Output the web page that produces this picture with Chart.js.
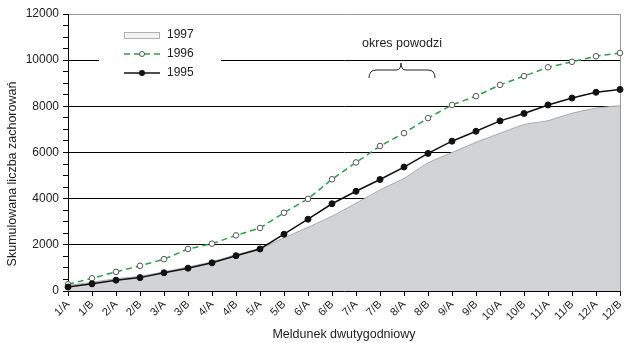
<!DOCTYPE html>
<html>
<head>
<meta charset="utf-8">
<script src="https://cdn.jsdelivr.net/npm/chart.js@4"></script>
<style>
  body { margin: 0; background: #fff; }
</style>
</head>
<body>
<canvas id="myChart" width="625" height="343"></canvas>
<script>
// meldunki dwutygodniowe
const labels = ['1/A', '1/B', '2/A', '2/B', '3/A', '3/B', '4/A', '4/B', '5/A', '5/B', '6/A', '6/B',
  '7/A', '7/B', '8/A', '8/B', '9/A', '9/B', '10/A', '10/B', '11/A', '11/B', '12/A', '12/B'];

const data1995 = [170, 310, 470, 580, 790, 990, 1220, 1530, 1820, 2460, 3110, 3780,
  4320, 4830, 5370, 5960, 6490, 6920, 7370, 7690, 8060, 8360, 8610, 8730];
const data1996 = [290, 550, 830, 1090, 1380, 1820, 2050, 2410, 2730, 3390, 3990, 4840,
  5570, 6280, 6840, 7490, 8060, 8440, 8930, 9310, 9690, 9930, 10170, 10310];
const data1997 = [240, 380, 530, 640, 830, 1040, 1270, 1570, 1860, 2300, 2760, 3240,
  3800, 4380, 4880, 5550, 6000, 6440, 6830, 7210, 7380, 7700, 7920, 8030];

const yMax = 12000;
const majorStep = 2000;
const GREEN = '#2f9c4d';
const FONT = '"Liberation Sans", Arial, sans-serif';

// legenda, tytul osi Y i adnotacja "okres powodzi"
const extras = {
  id: 'extras',
  afterDraw(chart) {
    const ctx = chart.ctx;
    ctx.save();
    // biale tlo legendy
    ctx.fillStyle = '#fff';
    ctx.fillRect(99, 24, 122, 60);

    ctx.font = '12px ' + FONT;
    ctx.textBaseline = 'middle';

    // 1997
    ctx.fillStyle = '#f2f2f2';
    ctx.fillRect(124.5, 32.5, 35, 6);
    ctx.strokeStyle = '#b0b0b0';
    ctx.lineWidth = 1;
    ctx.strokeRect(124.5, 32.5, 35, 6);
    ctx.fillStyle = '#222';
    ctx.fillText('1997', 167, 35);

    // 1996
    ctx.strokeStyle = GREEN;
    ctx.lineWidth = 1.5;
    ctx.setLineDash([6, 4]);
    ctx.beginPath(); ctx.moveTo(124, 54); ctx.lineTo(160, 54); ctx.stroke();
    ctx.setLineDash([]);
    ctx.lineWidth = 1;
    ctx.beginPath(); ctx.arc(142, 54, 2.5, 0, Math.PI * 2);
    ctx.fillStyle = '#fff'; ctx.fill();
    ctx.strokeStyle = '#555'; ctx.stroke();
    ctx.fillStyle = '#222';
    ctx.fillText('1996', 167, 54);

    // 1995
    ctx.strokeStyle = '#111';
    ctx.lineWidth = 1.5;
    ctx.beginPath(); ctx.moveTo(124, 73); ctx.lineTo(160, 73); ctx.stroke();
    ctx.beginPath(); ctx.arc(142, 73, 3, 0, Math.PI * 2);
    ctx.fillStyle = '#111'; ctx.fill();
    ctx.fillStyle = '#222';
    ctx.fillText('1995', 167, 73);

    // okres powodzi
    ctx.textAlign = 'center';
    ctx.font = '12.5px ' + FONT;
    ctx.fillText('okres powodzi', 402, 44);
    ctx.strokeStyle = '#222';
    ctx.lineWidth = 1;
    ctx.beginPath();
    ctx.moveTo(369, 78);
    ctx.quadraticCurveTo(369, 70, 376, 70);
    ctx.lineTo(396, 70);
    ctx.quadraticCurveTo(401, 70, 401, 63);
    ctx.quadraticCurveTo(401, 70, 406, 70);
    ctx.lineTo(428, 70);
    ctx.quadraticCurveTo(435, 70, 435, 78);
    ctx.stroke();

    // tytul osi Y
    ctx.translate(13, 174);
    ctx.rotate(-Math.PI / 2);
    ctx.fillText('Skumulowana liczba zachorowań', 0, 0);
    ctx.restore();
  }
};

window.onload = () => {
  const ctx = document.getElementById('myChart').getContext('2d');
  Chart.defaults.font.family = FONT;
  Chart.defaults.font.size = 12;
  Chart.defaults.color = '#222';

  new Chart(ctx, {
    type: 'line',
    data: {
      labels: labels,
      datasets: [
        {
          label: '1995',
          data: data1995,
          borderColor: '#111',
          borderWidth: 1.5,
          pointRadius: 3,
          pointBackgroundColor: '#111',
          pointBorderColor: '#111',
          pointBorderWidth: 1,
          tension: 0,
          fill: false,
          order: 0
        },
        {
          label: '1996',
          data: data1996,
          borderColor: GREEN,
          borderWidth: 1.5,
          borderDash: [6, 4],
          pointRadius: 2.8,
          pointBackgroundColor: '#fff',
          pointBorderColor: '#555',
          pointBorderWidth: 1,
          tension: 0,
          fill: false,
          order: 1
        },
        {
          label: '1997',
          data: data1997,
          borderColor: '#a8a8a8',
          borderWidth: 1,
          backgroundColor: '#d2d3d5',
          pointRadius: 0,
          tension: 0.2,
          fill: 'origin',
          order: 2
        }
      ]
    },
    options: {
      responsive: false,
      animation: false,
      layout: { padding: { left: 0, right: 0, top: 14, bottom: 0 } },
      plugins: {
        legend: { display: false },
        tooltip: { enabled: false }
      },
      scales: {
        x: {
          offset: false,
          border: { color: '#000', width: 1 },
          grid: {
            drawOnChartArea: true,
            color: (c) => c.index === labels.length - 1 ? '#999' : 'rgba(0,0,0,0)',
            tickColor: '#000',
            tickLength: 5
          },
          ticks: {
            autoSkip: false,
            minRotation: 45,
            maxRotation: 45,
            padding: 2,
            color: '#222',
            font: { size: 11 }
          },
          title: {
            display: true,
            text: 'Meldunek dwutygodniowy',
            padding: { top: 0, bottom: 1 },
            color: '#222',
            font: { size: 12.5 }
          },
          afterFit: (scale) => {
            scale.height = 52;
            scale.paddingRight = 0;
            scale.paddingLeft = 0;
          }
        },
        y: {
          min: 0,
          max: yMax,
          border: { color: '#000', width: 1 },
          grid: {
            color: (c) => {
              const v = c.tick.value;
              if (v === yMax) return '#999';
              if (v > 0 && v % majorStep === 0) return '#000';
              return 'rgba(0,0,0,0)';
            },
            tickColor: '#000',
            tickLength: 5
          },
          ticks: {
            stepSize: 500,
            autoSkip: false,
            padding: 4,
            color: '#222',
            callback: (v) => v % majorStep === 0 ? v : ''
          },
          afterFit: (scale) => {
            scale.width = 68;
            scale.paddingTop = 0;
            scale.paddingBottom = 0;
          }
        }
      }
    },
    plugins: [extras]
  });
};
</script>
</body>
</html>
